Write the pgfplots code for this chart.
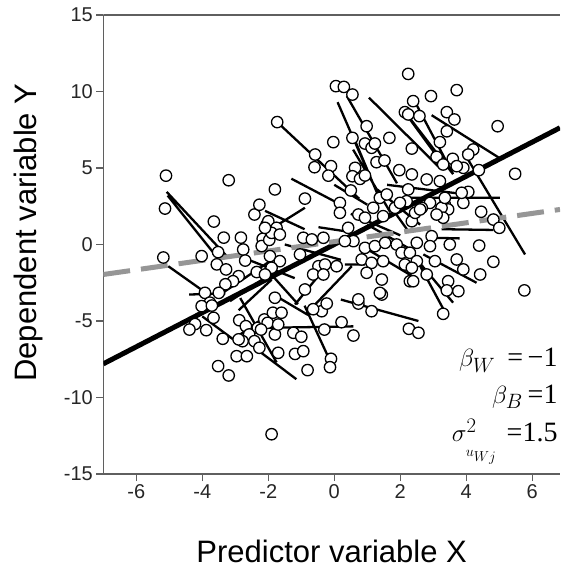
\documentclass[border=0pt]{standalone}
\usepackage[no-math]{fontspec}
\setmainfont{Liberation Sans}
\newfontfamily\tnr{Liberation Serif}
\usepackage{pgfplots}
\pgfplotsset{compat=1.18}
\definecolor{dgray}{RGB}{150,150,150}
\definecolor{axgray}{RGB}{95,95,95}
\begin{document}
\begin{tikzpicture}
\begin{axis}[
 scale only axis, width=456.7pt, height=459pt,
 xmin=-7, xmax=6.84, ymin=-15, ymax=15,
 axis lines*=left,
 axis line style={axgray, line width=1.2pt},
 tick style={axgray, line width=1.2pt},
 tick align=outside, major tick length=7pt,
 xtick={-6,-4,...,6}, xticklabels={-6,-4,-2,0,2,4,6},
 ytick={-15,-10,...,15}, yticklabels={-15,-10,-5,0,5,10,15},
 ticklabel style={font=\fontsize{20}{20}\selectfont, text=black!85},
 xlabel={Predictor variable X}, ylabel={Dependent variable Y},
 label style={font=\fontsize{31}{31}\selectfont},
 xlabel style={at={(axis description cs:0.5,-0.1678)}, anchor=center},
 ylabel style={at={(axis description cs:-0.1631,0.526)}, anchor=center},
 unbounded coords=jump, clip=true,
]
\draw[axgray, line width=1.2pt] (rel axis cs:0,1) -- (rel axis cs:1,1);
% within-group regression lines
\addplot[black, line width=2.3pt] table {
x y
-5.08 3.44
-3.26 -0.76
nan nan
-5.05 3.20
-3.67 -0.52
nan nan
-5.03 -1.42
-3.82 -3.27
nan nan
-4.40 -3.27
-3.30 -3.20
nan nan
-4.00 -4.70
-3.00 -6.30
nan nan
-3.06 -6.20
-2.15 -4.80
nan nan
-2.85 -3.50
-1.75 -7.70
nan nan
-2.20 -7.10
-1.15 -8.80
nan nan
-2.10 -5.45
0.58 -5.35
nan nan
0.20 -3.60
2.55 -5.00
nan nan
-0.90 -4.00
-0.13 -7.60
nan nan
3.90 6.10
5.78 -0.65
nan nan
2.20 3.05
5.02 3.05
nan nan
3.25 1.00
4.82 0.95
nan nan
2.29 -0.44
3.60 -3.80
nan nan
2.70 -0.65
4.31 -2.50
nan nan
2.90 0.44
3.80 0.40
nan nan
2.95 8.45
4.97 5.70
nan nan
2.50 9.10
3.60 4.60
nan nan
1.05 9.60
3.20 5.00
nan nan
0.10 9.30
1.15 4.10
nan nan
0.38 9.70
1.90 4.00
nan nan
-1.73 8.00
0.75 3.00
nan nan
0.57 6.20
1.70 2.10
nan nan
2.15 8.60
3.10 5.80
nan nan
2.20 8.50
3.60 4.60
nan nan
-2.00 0.90
-0.89 2.40
nan nan
-2.10 2.20
-0.90 1.00
nan nan
-0.48 1.13
0.32 0.87
nan nan
2.50 -1.00
3.35 -4.40
nan nan
-3.46 -3.27
-1.95 -1.09
nan nan
-3.16 -3.70
-1.95 -1.96
nan nan
-1.19 -3.92
-0.28 -1.52
nan nan
-0.58 -3.92
0.53 -1.42
nan nan
0.32 -1.31
0.93 -1.31
nan nan
0.93 -0.22
2.45 -2.18
nan nan
0.53 7.30
1.38 2.94
nan nan
0.00 3.90
1.00 2.60
nan nan
1.30 3.60
2.60 1.30
nan nan
1.60 3.90
3.90 3.30
nan nan
-2.90 -4.30
-1.90 -2.30
nan nan
-1.90 -3.20
-0.80 -4.60
nan nan
-2.10 -1.50
-1.10 -3.90
nan nan
-1.30 4.30
0.20 2.60
nan nan
0.50 2.00
2.00 0.60
nan nan
1.00 1.30
2.30 -0.30
nan nan
-1.50 0.00
0.20 -1.00
nan nan
-2.60 -1.00
-1.20 -2.20
nan nan
1.70 2.50
2.20 1.00
};
% between regression line
\addplot[black, line width=5pt] coordinates {(-7,-7.8) (6.84,7.63)};
% pooled regression line
\addplot[dgray, line width=5pt, dash pattern=on 27pt off 11pt] coordinates {(-7,-1.96) (6.84,2.29)};
% observations
\addplot[only marks, mark=*, mark size=5.7pt, mark options={fill=white, draw=black, line width=1.3pt}] table {
x y
-5.10 4.50
-5.13 2.35
-5.18 -0.85
-3.20 4.20
-3.65 1.50
-3.35 0.45
-2.83 0.45
-2.42 1.96
-2.27 2.60
-2.05 1.30
-1.80 3.60
-1.73 8.00
-2.17 0.37
-2.20 -0.10
-2.76 -0.33
-3.52 -0.50
-4.02 -0.76
-3.56 -1.30
-3.28 -1.63
-2.70 -1.05
-2.90 -2.07
-3.07 -2.40
-3.30 -2.60
-3.50 -3.16
-3.92 -3.16
-3.77 -3.80
-2.35 -1.80
-1.97 0.30
-1.77 1.00
-4.02 -4.03
-3.71 -3.99
-3.66 -4.79
-4.22 -5.20
-4.39 -5.56
-3.88 -5.60
-3.38 -6.16
-2.88 -4.95
-2.68 -5.34
-2.32 -5.45
-2.12 -4.90
-2.02 -5.12
-2.22 -5.56
-2.58 -5.88
-2.78 -6.32
-2.42 -6.32
-2.27 -6.75
-2.96 -7.30
-2.65 -7.30
-3.52 -7.95
-3.20 -8.56
-1.90 -12.40
-1.86 -4.46
-1.80 -3.48
-1.80 -5.88
-1.70 -7.08
-2.90 -6.20
-1.60 -4.46
-1.70 -5.23
-1.19 -7.15
-0.94 -6.97
-0.81 -8.21
-1.24 -5.77
-1.00 -6.03
-0.30 -5.56
0.22 -5.08
0.58 -5.95
-0.10 -7.47
-0.13 -8.02
0.73 -3.86
1.13 -4.36
2.26 -5.51
2.55 -5.77
-0.38 -4.36
-0.23 -3.86
-0.64 -4.23
1.44 -3.27
3.30 -4.53
-0.89 3.00
0.17 2.72
0.17 2.07
0.73 1.96
0.93 1.75
1.18 2.40
1.38 3.05
0.50 3.53
2.24 3.60
2.19 2.83
1.84 2.40
1.48 1.85
2.35 1.52
-2.00 1.52
-1.75 1.09
-1.90 0.76
-2.10 1.09
-1.65 0.65
-0.94 0.44
-0.68 0.33
-0.33 0.44
0.42 1.09
0.58 0.22
0.32 0.22
0.93 -0.22
1.23 -0.11
1.54 0.11
1.89 0.00
2.04 -0.54
2.29 -0.54
-1.95 -0.76
-1.65 -1.09
-1.90 -1.52
-2.10 -1.96
-1.04 -0.65
-0.48 -1.42
-0.28 -1.31
-0.64 -1.96
-0.33 -1.96
0.07 -1.42
0.83 -0.98
1.13 -1.20
1.48 -1.09
2.14 -1.31
0.98 -1.85
1.44 -2.29
2.29 -2.40
1.38 -3.16
-0.89 -2.94
0.73 -3.59
2.24 11.15
0.05 10.35
0.29 10.30
0.55 9.80
2.39 9.37
2.14 8.65
2.24 8.50
0.98 7.73
-0.03 6.69
0.55 6.97
1.67 6.97
0.93 6.60
1.13 6.32
1.23 6.60
2.35 6.27
-0.58 5.88
-0.60 5.05
-0.10 5.12
-0.18 4.50
0.63 5.01
1.28 5.38
1.52 5.49
1.97 4.86
0.55 4.46
0.78 4.29
0.93 4.51
2.35 4.58
3.71 10.09
2.93 9.70
3.41 8.65
3.64 8.17
2.58 8.39
4.95 7.73
3.41 7.40
3.20 6.69
4.21 6.21
4.06 5.88
3.10 5.73
3.59 5.60
3.30 5.23
3.91 5.01
3.71 5.12
4.38 4.86
5.48 4.62
2.80 4.25
3.20 4.14
4.06 3.44
3.91 2.72
4.45 2.14
4.82 1.63
5.00 1.09
3.35 2.61
3.45 2.29
3.25 2.40
3.30 1.75
3.10 1.96
2.90 2.72
2.65 2.40
2.45 2.07
2.95 0.54
2.90 -0.11
2.50 0.11
3.50 0.00
4.39 -0.07
3.05 -1.09
2.50 -1.09
2.35 -1.52
3.71 -0.98
3.91 -1.63
4.42 -1.96
4.82 -1.13
2.80 -1.96
3.45 -2.40
3.41 -3.00
3.76 -3.05
2.39 -2.40
5.76 -3.00
1.59 3.27
1.99 2.72
2.60 2.29
3.35 3.05
3.86 3.38
};
\node[anchor=east, inner sep=0pt, font=\fontsize{28}{28}\selectfont] at (rel axis cs:0.995,0.248) {$\beta_{W}$\hspace{12pt}{\tnr =\,−1}};
\node[anchor=east, inner sep=0pt, font=\fontsize{28}{28}\selectfont] at (rel axis cs:0.995,0.168) {$\beta_{B}$\hspace{5pt}{\tnr =1}};
\node[anchor=east, inner sep=0pt, font=\fontsize{28}{28}\selectfont] at (rel axis cs:0.995,0.070) {$\sigma^{2}_{\lower9pt\hbox{$\scriptscriptstyle u_{Wj}$}}$\hspace{10pt}{\tnr =1.5}};
\end{axis}
\pgfresetboundingbox
\path[use as bounding box] ([xshift=-103.3pt,yshift=-96pt]current axis.south west) rectangle ([yshift=15pt]current axis.north east);
\end{tikzpicture}
\end{document}
